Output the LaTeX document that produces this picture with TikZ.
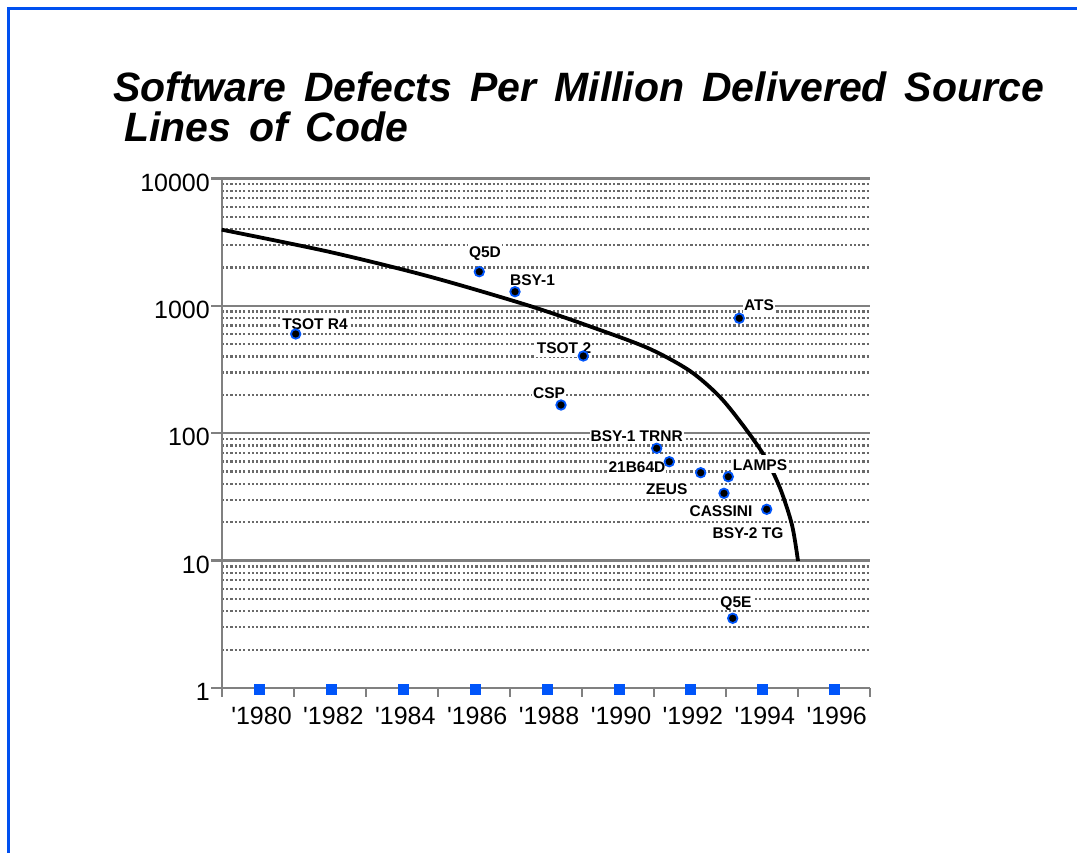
\documentclass[tikz,border=0pt]{standalone}
\usepackage{fontspec}
\setmainfont{Liberation Sans}
\definecolor{frameblue}{RGB}{0,80,240}
\definecolor{sqblue}{RGB}{0,85,250}
\definecolor{gridgray}{RGB}{128,128,128}
\definecolor{dotgray}{RGB}{105,105,105}
\begin{document}
\begin{tikzpicture}[x=1pt,y=-1pt,
  major/.style={draw=gridgray,line width=2.4pt},
  minor/.style={draw=dotgray,line width=2.3pt,dash pattern=on 2.2pt off 2.1pt},
  axisline/.style={draw=gridgray,line width=2.4pt},
  curveline/.style={draw=black,line width=3.8pt},
  ptlabel/.style={fill=white,inner xsep=1pt,inner ysep=1pt,text height=14pt,text depth=2pt,font=\fontsize{15.5}{19}\selectfont\bfseries},
  datapt/.style={circle,fill=black,draw=sqblue,line width=1.8pt,inner sep=0pt,minimum size=9.5pt},
  catmark/.style={rectangle,fill=sqblue,inner sep=0pt,minimum size=11pt},
  ticklbl/.style={inner sep=0pt,font=\fontsize{25}{30}\selectfont},
  titletext/.style={inner sep=0pt,anchor=base west,font=\fontsize{41}{48}\selectfont\bfseries\itshape}
]
\useasboundingbox (0,0) rectangle (1077,853);
% outer frame
\draw[frameblue,line width=3pt] (8.3,853) -- (8.3,8.3) -- (1077,8.3);
% title
\node[titletext] (t1) at (113,102) {\spaceskip=18pt Software Defects Per Million Delivered Source};
\node[titletext] (t2) at (124,142) {\spaceskip=18pt Lines of Code};
% minor gridlines
\foreach \k in {0,1,2,3}{
  \foreach \m in {2,...,9}{
    \pgfmathsetmacro{\yy}{688-127.4*(\k+log10(\m))}
    \draw[minor] (221.7,\yy) -- (870,\yy);
  }
}
% major gridlines
\foreach \k in {1,2,3,4}{
  \pgfmathsetmacro{\yy}{688-127.4*\k}
  \draw[major] (211,\yy) -- (870,\yy);
}
% axes
\draw[axisline] (221.7,178.4) -- (221.7,697);
\draw[axisline] (211,688) -- (870,688);
\foreach \i in {0,...,9}{
  \draw[axisline] ({221.7+72.03*\i},688) -- ({221.7+72.03*\i},697);
}
% y tick labels
\foreach \k/\t in {0/1,1/10,2/100,3/1000,4/10000}{
  \node[ticklbl,anchor=east] (y\k) at (210,{688-127.4*\k+4}) {\t};
}
% x categories
\foreach \i/\yr in {0/1980,1/1982,2/1984,3/1986,4/1988,5/1990,6/1992,7/1994,8/1996}{
  \node[ticklbl] (x\i) at ({261.5+71.9*\i},716) {\textquotesingle\yr};
}
% trend curve
\draw[curveline,line cap=butt] plot[smooth,tension=0.5] coordinates {
  (221.7,229.7) (330,252) (430,276.7) (530,306) (600,330) (650,349)
  (690,371) (720,397) (745,428) (765,457) (780,488) (792,525) (798,561)};
% data labels
\node[ptlabel] (l1) at (315,324) {TSOT R4};
\node[ptlabel] (l2) at (485,252) {Q5D};
\node[ptlabel] (l3) at (532.5,280) {BSY-1};
\node[ptlabel] (l4) at (759,305) {ATS};
\node[ptlabel] (l5) at (564,347.5) {TSOT 2};
\node[ptlabel] (l6) at (549,392.5) {CSP};
\node[ptlabel] (l7) at (636.7,435) {BSY-1 TRNR};
\node[ptlabel] (l8) at (637,466) {21B64D};
\node[ptlabel] (l9) at (666.7,488) {ZEUS};
\node[ptlabel] (l10) at (760,464) {LAMPS};
\node[ptlabel] (l11) at (721,510) {CASSINI};
\node[ptlabel] (l12) at (748,532) {BSY-2 TG};
\node[ptlabel] (l13) at (736,601) {Q5E};
% data points
\node[datapt] (p1) at (295.7,334) {};
\node[datapt] (p2) at (479.3,271.7) {};
\node[datapt] (p3) at (515,291.7) {};
\node[datapt] (p4) at (739.3,318.3) {};
\node[datapt] (p5) at (583.3,356) {};
\node[datapt] (p6) at (561,405) {};
\node[datapt] (p7) at (656.7,448.3) {};
\node[datapt] (p8) at (669.3,461.7) {};
\node[datapt] (p9) at (700.7,472.7) {};
\node[datapt] (p10) at (728.3,476.7) {};
\node[datapt] (p11) at (724,493.3) {};
\node[datapt] (p12) at (766.7,509.3) {};
\node[datapt] (p13) at (732.7,618.3) {};
% category markers
\foreach \i in {0,...,8}{
  \node[catmark] (s\i) at ({259.5+71.9*\i},689) {};
}
\end{tikzpicture}
\end{document}
